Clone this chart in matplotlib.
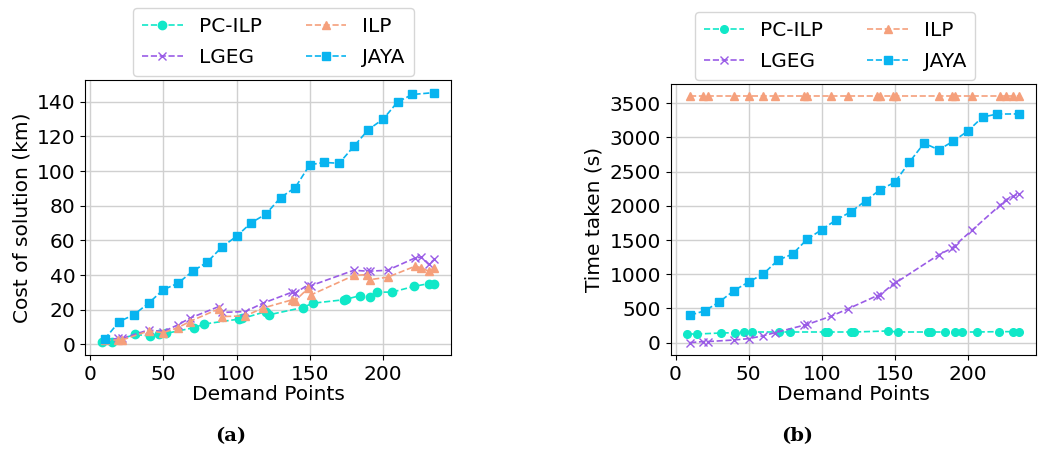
import matplotlib
matplotlib.use("Agg")
import matplotlib.pyplot as plt

# ---------------- data ----------------
# demand points per method
x_pcilp = [8, 15, 31, 41, 47, 52, 71, 78, 102, 104, 120, 122, 145, 152, 173, 175, 184, 191, 196, 206, 221, 231, 235]
x_ilp = [10, 19, 22, 40, 50, 60, 68, 88, 90, 106, 118, 138, 140, 149, 151, 180, 189, 191, 203, 222, 226, 231, 235]
x_lgeg = x_ilp
x_jaya = [10, 20, 30, 40, 50, 60, 70, 80, 90, 100, 110, 120, 130, 140, 150, 160, 170, 180, 190, 200, 210, 220, 235]

# (a) cost of solution (km)
cost_pcilp = [1.2, 1.6, 5.8, 4.9, 5.8, 6.4, 9.7, 11.8, 14.7, 15.0, 19.0, 17.1, 21.3, 23.8, 25.8, 26.2, 28.1, 27.3, 30.2, 30.2, 33.5, 35.1, 35.1]
cost_ilp = [2.5, 2.6, 2.6, 7.8, 6.8, 9.7, 13.2, 20.6, 16.1, 16.5, 21.0, 25.8, 25.2, 32.6, 28.7, 39.8, 40.3, 37.4, 38.8, 45.2, 44.2, 42.3, 44.2]
cost_lgeg = [2.5, 3.5, 3.5, 8.4, 7.4, 11.3, 15.1, 21.9, 18.5, 19.0, 23.8, 30.2, 29.7, 34.5, 34.0, 42.8, 42.3, 42.3, 42.8, 50.0, 50.4, 46.2, 49.1]
cost_jaya = [3.1, 13.2, 17.2, 23.8, 31.6, 35.3, 42.2, 47.5, 56.2, 62.4, 70.2, 75.2, 84.7, 90.5, 103.7, 105.0, 104.5, 114.3, 124.0, 130.0, 140.0, 144.2, 145.3]

# (b) time taken (s)
time_pcilp = [126, 126, 140, 145, 155, 155, 155, 155, 155, 155, 155, 155, 170, 155, 155, 155, 155, 155, 155, 155, 160, 160, 160]
time_ilp = [3600] * len(x_ilp)
time_lgeg = [0, 15, 15, 38, 58, 100, 145, 255, 265, 383, 494, 688, 698, 860, 880, 1284, 1380, 1420, 1647, 2010, 2090, 2140, 2180]
time_jaya = [402, 465, 596, 761, 887, 1003, 1206, 1294, 1512, 1652, 1797, 1914, 2074, 2238, 2345, 2641, 2917, 2820, 2946, 3096, 3299, 3343, 3345]

c_pcilp = '#10e8c8'
c_ilp = '#f5a07c'
c_lgeg = '#9a5ce6'
c_jaya = '#08b4f0'

fs = 14.5
plt.rcParams['font.family'] = 'DejaVu Sans'

fig = plt.figure(figsize=(10.43, 4.55), dpi=100)
ax1 = fig.add_axes([0.0815, 0.22, 0.351, 0.604])
ax2 = fig.add_axes([0.643, 0.22, 0.350, 0.595])


def draw(ax, ys, ylabel, ms, leg_x):
    y_pc, y_ilp, y_lg, y_ja = ys
    ax.plot(x_pcilp, y_pc, '--o', color=c_pcilp, ms=ms, lw=1.2, label='PC-ILP')
    ax.plot(x_lgeg, y_lg, '--x', color=c_lgeg, ms=ms, lw=1.2, label='LGEG')
    ax.plot(x_ilp, y_ilp, '--^', color=c_ilp, ms=ms, lw=1.2, label='ILP')
    ax.plot(x_jaya, y_ja, '--s', color=c_jaya, ms=ms, lw=1.2, label='JAYA')
    ax.grid(True, color='#d0d0d0', lw=1)
    ax.set_axisbelow(True)
    ax.set_xticks([0, 50, 100, 150, 200])
    ax.tick_params(labelsize=fs)
    ax.set_xlabel('Demand Points', fontsize=fs, labelpad=1)
    ax.set_ylabel(ylabel, fontsize=fs)
    ax.legend(loc='lower center', bbox_to_anchor=(leg_x, 1.0), ncol=2,
              fontsize=fs, columnspacing=2.2, handlelength=2.0,
              labelspacing=0.6, borderpad=0.45, borderaxespad=0.2)


draw(ax1, [cost_pcilp, cost_ilp, cost_lgeg, cost_jaya], 'Cost of solution (km)', 6, 0.515)
ax1.set_yticks([0, 20, 40, 60, 80, 100, 120, 140])
draw(ax2, [time_pcilp, time_ilp, time_lgeg, time_jaya], 'Time taken (s)', 5.5, 0.45)
ax2.set_yticks([0, 500, 1000, 1500, 2000, 2500, 3000, 3500])

fig.text(0.221, 0.03, '(a)', fontsize=14, fontweight='bold', family='DejaVu Serif', ha='center')
fig.text(0.764, 0.03, '(b)', fontsize=14, fontweight='bold', family='DejaVu Serif', ha='center')

fig.savefig('out.png', dpi=100)
